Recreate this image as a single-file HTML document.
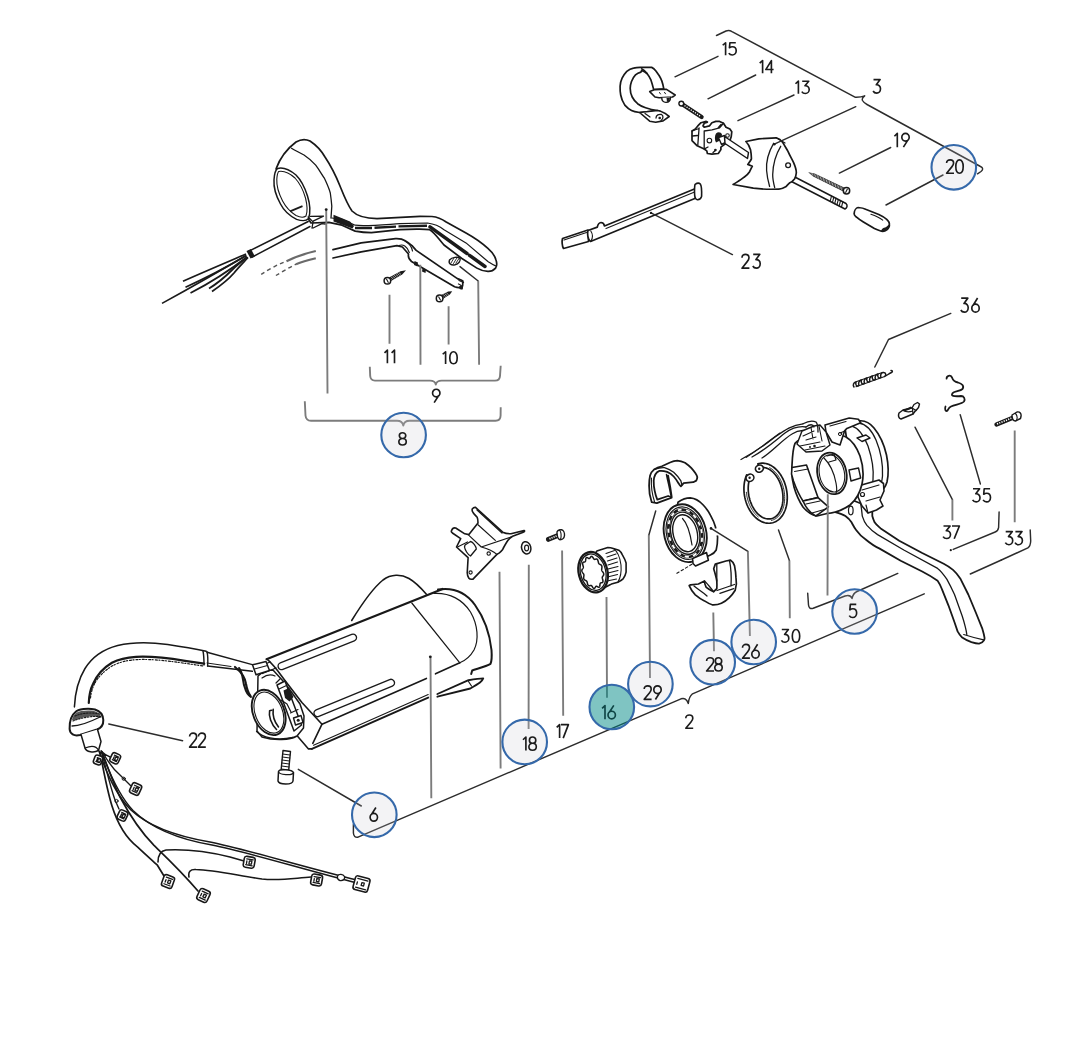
<!DOCTYPE html>
<html><head><meta charset="utf-8"><style>
html,body{margin:0;padding:0;background:#fff;font-family:"Liberation Sans",sans-serif;width:1092px;height:1041px;overflow:hidden}
svg{display:block}
.l{fill:none;stroke:#2c2c2c;stroke-width:1.45;stroke-linecap:round;stroke-linejoin:round}
.lv{fill:none;stroke:#7c7c7c;stroke-width:1.9;stroke-linecap:butt;stroke-linejoin:round}
.k{fill:none;stroke:#181818;stroke-width:1.6;stroke-linecap:round;stroke-linejoin:round}
.w{fill:#fff;stroke:#181818;stroke-width:1.6;stroke-linecap:round;stroke-linejoin:round}
.f{fill:#1a1a1a;stroke:none}
.c{fill:#c2c2cc;fill-opacity:.2;stroke:#3569aa;stroke-width:2.1}
</style></head><body>
<svg width="1092" height="1041" viewBox="0 0 1092 1041">
<rect width="1092" height="1041" fill="#fff"/>
<!-- 10_housing.svg -->
<g id="housing">
<!-- hump -->
<path class="k" d="M351.7,620.5 C360,607 373,588 383,580 C391,574 401,574 409,578.5 C416,582.5 421,588 426.4,594.2"/>
<!-- top edge -->
<path class="k" style="stroke-width:2.2" d="M266.5,659.2 L442.6,589"/>
<!-- rear end -->
<path class="k" style="stroke-width:2" d="M438,589.6 C455,587 467,594 475,605 C485,619 490,636 491.5,650 C492,657 492,660.5 490.5,663.8 C486,666.5 476,669 472.2,670.5 L471.2,674"/>
<path class="k" style="stroke-width:1.2" d="M434,593.4 C450,592.5 463,600 470.5,612 C478,625 479,640 474,650 C470,657 465.5,660.5 459.8,662.8"/>
<path class="k" style="stroke-width:1.2" d="M411.8,603 L459.8,662.8"/>
<!-- top face lower edge -->
<path class="k" d="M322,724.2 L426.4,678.4 M435.5,673.8 L459.8,662.8"/>
<!-- front edge -->
<path class="k" d="M267,659.2 C272,663 278,671 284.2,679.4 L301.9,702.5 L322,724.2 L312.8,743.4"/>
<!-- bottom edges -->
<path class="k" style="stroke-width:1.9" d="M311.9,748.9 L428.2,697.6 M437.4,694 L468.5,680.2 C476,679 480,678.5 483.2,678.4 C482,681.5 480,683 470.3,688.5 L437.4,696.7"/>
<path class="k" style="stroke-width:1.1" d="M313.5,745.2 L428.2,694.5"/>
<path class="k" style="stroke-width:1.2" d="M468.5,681.5 L471.5,686"/>
<path class="k" d="M294.1,732.3 L308.5,748.9 L311.9,748.9"/>
<!-- slots -->
<path d="M281.6,666.1 L353,637.6" style="stroke:#1a1a1a;stroke-width:8.4;stroke-linecap:round"/>
<path d="M281.6,666.1 L353,637.6" style="stroke:#fff;stroke-width:5.6;stroke-linecap:round"/>
<path d="M317.5,713.2 L391,682.8" style="stroke:#1a1a1a;stroke-width:8.4;stroke-linecap:round"/>
<path d="M317.5,713.2 L391,682.8" style="stroke:#fff;stroke-width:5.6;stroke-linecap:round"/>
<!-- clamp on front face -->
<path class="w" style="stroke-width:1.5" d="M258,676 C262,672 268,670 273,670 L283,681 L290,690 L300,704 L304,716 L303.5,728 L297,736 C290,740 275,741 262,737 L257,731 Z" />
<path class="w" style="stroke-width:1.5" d="M277,685 L285,681 L301.5,725 L294,731 Z"/>
<path class="k" style="stroke-width:1.2" d="M279,689 L286.5,685.5 M290.5,713 L298,709.5"/>
<ellipse cx="268.7" cy="712.4" rx="15.6" ry="23.6" transform="rotate(-22 268.7 712.4)" class="w" style="stroke-width:1.9"/>
<ellipse cx="268.9" cy="712.6" rx="13.6" ry="21.4" transform="rotate(-22 268.9 712.6)" class="k" style="stroke-width:1.1"/>
<path class="k" style="stroke-width:1.6" d="M271.5,710.2 L269.6,710.8 C268.5,716 271,724 276.5,729.5 M273.2,709.4 C272.5,715 274.5,722 278.5,727"/>
<path class="k" style="stroke-width:1.4" d="M256.6,731.5 C262,737 275,741 293,737.5"/>
<path class="w" style="stroke-width:1.4" d="M293.5,718 L301,715.5 L303,722.5 L295.5,725 Z"/>
<circle cx="298.2" cy="720.3" r="1.5" class="f"/>
<path class="f" d="M283.5,690.5 L289,688 L293.5,697 L289.5,701.5 L285,698 Z"/>
<path class="k" style="stroke-width:1.2" d="M281,700 L287,704 L291,712 M276,683 L280,679 M262,678 C266,675 271,674 275,676"/>
<path class="k" style="stroke-width:1.3" d="M270,662 L258,667 M262.5,673.5 L276,668"/>
</g>

<!-- 20_harness.svg -->
<g id="harness">
<!-- sheath -->
<path class="k" style="stroke-width:1.5" d="M74.4,706.9 C75,695 78,680 85,668.5 C92,657 104,649 117.7,645.4 C130,642.5 150,642 167.7,644.4 C182,646.5 196,649 206.2,651.2"/>
<path class="k" style="stroke-width:2.2" d="M88.8,703 C89,695 91,688 93,684 C96,677 103,668 111.9,662.7 C120,658.5 128,657.3 136,656.8 C150,656 165,657.5 185,660.8 L204.2,663.7"/>
<path class="k" style="stroke-width:1.2;stroke-dasharray:2 1.5 1 2" d="M90.5,698 C91,692 93,686.5 95,683 C98,677 105,670 113,665.5 C121,661.5 129,660 137,659.6 C151,659 166,660.5 185,663.3 L203,666"/>
<path class="k" style="stroke-width:1.4" d="M203,651 C204,656 204,660 204,665 M207,651.8 C208,656 208,661 207.6,666"/>
<path class="k" style="stroke-width:1.5" d="M207,652.2 L252.3,664.6 M207.6,666 L252.3,671.3"/>
<path class="k" style="stroke-width:1" d="M207,663 L231,666.5"/>
<path class="k" style="stroke-width:2.2" d="M235,667 C240,671 245,676 246,684 C247,690 249,694 250.4,696"/>
<path class="k" style="stroke-width:2" d="M239,668 C244,674 242,682 245,688 C246,692 248,695 251,697"/>
<path class="w" style="stroke-width:1.5" d="M252.5,664.8 L266,661.5 L269.5,670.5 L256,674.8 Z"/><path class="k" style="stroke-width:1.1" d="M254.5,669 L267.5,665.5"/>
<!-- grommet -->
<path class="w" style="stroke-width:2" d="M75.5,712 C78,709 88,708 95,709.5 C100,711 103,714 103.3,720 C103.5,725 101,728 97,729.5 L80,735 C74,736.5 70,734 69.6,729 C69.4,722 71.5,715 75.5,712 Z"/>
<path d="M76,713 C80,710.5 88,710 94,711 C98,712 101,714.5 101.5,718 C96,716 88,716 80,718.5 C76,720 73,721 72,720 C72.5,717 74,714.5 76,713 Z" style="fill:#555;stroke:none"/>
<path class="k" style="stroke-width:1.3" d="M72,726 C78,726 90,722 100,717"/><path class="k" style="stroke-width:1.1;stroke-dasharray:1.5 1.5" d="M75,716 C82,713 92,712 100,714 M73,721 C80,718 90,716 101,716.5"/>
<path class="w" style="stroke-width:1.5" d="M81,734.5 L85,748 C86,752 94,753 98.5,750.5 L101,741.5 L97.5,729.5"/>
<path class="k" style="stroke-width:1.2" d="M85,748 C90,746 96,745 98.5,750.5"/>
<!-- wires -->
<path class="k" style="stroke-width:1.6" d="M99,751 C106,772 116,795 131,810 C148,826 175,836 210,842 C245,849 300,866 357,880"/>
<path class="k" style="stroke-width:1.4" d="M101.5,751 C108.5,771 118.5,795 133,810.5 C150,827 177,839 212,845 C247,852 302,869 357,883"/>
<path class="k" style="stroke-width:1.7" d="M102,752 C108,768 114,785 120,797 C128,812 138,829 154,845.4 C165,856 180,870 198,891"/>
<path class="k" style="stroke-width:1.7" d="M100,752 C103,768 107,790 112,806 C117,822 126,838 137.7,847.1 C146,855 153,861 157.4,865.2 L164,876"/>
<path class="k" style="stroke-width:1.6" d="M158,862 C158,856 160,851 166,850 C185,849 210,852 230,857 L244,861"/>
<path class="k" style="stroke-width:1.6" d="M189,877 C188,872 190,869 196,869.5 C215,870 240,876 262,879 C280,881 295,878 311,877"/>
<path class="k" style="stroke-width:1.4" d="M101,751 C104,754 107,756 111,757.5 M102.5,752 C108,762 114,770 120,775 C123,778 126,781 130.5,785.5 M101.5,752 C106,768 110,786 115,800 L119,809"/><circle cx="123.7" cy="778.7" r="1.6" class="k" style="stroke-width:1"/><circle cx="116.5" cy="801" r="1.6" class="k" style="stroke-width:1"/>
<!-- connectors -->
<g transform="translate(361.5,884) rotate(15)"><rect x="-7.5" y="-7.0" width="15" height="14" rx="2.5" class="w" style="stroke-width:1.6"/><path class="k" style="stroke-width:1.3" d="M-5.0,-4.5 L5.5,-4.5 M-5.0,4.5 L5.5,4.5 M-4.5,-1 L-4.5,1.5 M0,-1.5 L2.5,-1.5 L2.5,1.5 L0,1.5 Z"/></g>
<g transform="translate(203.5,895.5) rotate(25)"><rect x="-5.5" y="-6.0" width="11" height="12" rx="2.5" class="w" style="stroke-width:1.6"/><path class="k" style="stroke-width:1.3" d="M-3.0,-3.5 L3.5,-3.5 M-3.0,3.5 L3.5,3.5 M-2.5,-1 L-2.5,1.5 M0,-1.5 L2.5,-1.5 L2.5,1.5 L0,1.5 Z"/></g>
<g transform="translate(168,881.5) rotate(20)"><rect x="-5.5" y="-6.0" width="11" height="12" rx="2.5" class="w" style="stroke-width:1.6"/><path class="k" style="stroke-width:1.3" d="M-3.0,-3.5 L3.5,-3.5 M-3.0,3.5 L3.5,3.5 M-2.5,-1 L-2.5,1.5 M0,-1.5 L2.5,-1.5 L2.5,1.5 L0,1.5 Z"/></g>
<g transform="translate(249.2,862.3) rotate(10)"><rect x="-5.5" y="-5.5" width="11" height="11" rx="2.5" class="w" style="stroke-width:1.6"/><path class="k" style="stroke-width:1.3" d="M-3.0,-3.0 L3.5,-3.0 M-3.0,3.0 L3.5,3.0 M-2.5,-1 L-2.5,1.5 M0,-1.5 L2.5,-1.5 L2.5,1.5 L0,1.5 Z"/></g>
<g transform="translate(316.6,880) rotate(10)"><rect x="-5.5" y="-5.5" width="11" height="11" rx="2.5" class="w" style="stroke-width:1.6"/><path class="k" style="stroke-width:1.3" d="M-3.0,-3.0 L3.5,-3.0 M-3.0,3.0 L3.5,3.0 M-2.5,-1 L-2.5,1.5 M0,-1.5 L2.5,-1.5 L2.5,1.5 L0,1.5 Z"/></g>
<g transform="translate(115.2,758.3) rotate(25)"><rect x="-4.5" y="-5.0" width="9" height="10" rx="2.5" class="w" style="stroke-width:1.6"/><path class="k" style="stroke-width:1.3" d="M-2.0,-2.5 L2.5,-2.5 M-2.0,2.5 L2.5,2.5 M-1.5,-1 L-1.5,1.5 M0,-1.5 L2.5,-1.5 L2.5,1.5 L0,1.5 Z"/></g>
<g transform="translate(135.6,789) rotate(25)"><rect x="-5.0" y="-5.5" width="10" height="11" rx="2.5" class="w" style="stroke-width:1.6"/><path class="k" style="stroke-width:1.3" d="M-2.5,-3.0 L3.0,-3.0 M-2.5,3.0 L3.0,3.0 M-2.0,-1 L-2.0,1.5 M0,-1.5 L2.5,-1.5 L2.5,1.5 L0,1.5 Z"/></g>
<g transform="translate(122.5,815.5) rotate(25)"><rect x="-4.5" y="-5.0" width="9" height="10" rx="2.5" class="w" style="stroke-width:1.6"/><path class="k" style="stroke-width:1.3" d="M-2.0,-2.5 L2.5,-2.5 M-2.0,2.5 L2.5,2.5 M-1.5,-1 L-1.5,1.5 M0,-1.5 L2.5,-1.5 L2.5,1.5 L0,1.5 Z"/></g>
<g transform="translate(98,760) rotate(20)"><rect x="-4.0" y="-4.5" width="8" height="9" rx="2.5" class="w" style="stroke-width:1.6"/><path class="k" style="stroke-width:1.3" d="M-1.5,-2.0 L2.0,-2.0 M-1.5,2.0 L2.0,2.0 M-1.0,-1 L-1.0,1.5 M0,-1.5 L2.5,-1.5 L2.5,1.5 L0,1.5 Z"/></g>
<path class="w" style="stroke-width:1.4" d="M337.5,876 C339,873.5 343,874 344.5,876.5 C345.5,879 343,881 340,880.5 C338,880 337,878 337.5,876 Z"/>
<!-- screw 6 -->
<path class="w" style="stroke-width:1.4" d="M283,750.5 L290.5,751.5 L288.5,772 L281,771 Z"/>
<path class="k" style="stroke-width:1" d="M282.5,754 L290,755 M282.3,757 L289.8,758 M282,760 L289.5,761 M281.8,763 L289.2,764 M281.6,766 L289,767 M281.4,769 L288.8,770"/>
<path class="w" style="stroke-width:1.5" d="M278.5,771.5 C279,768.5 292,769.5 293.5,772.5 L293,781 C292.5,785 279,785 278,781 Z"/>
<path class="k" style="stroke-width:1.2" d="M278.5,771.5 C279,775 292.5,776 293.5,772.5"/>
</g>

<!-- 30_lever8.svg -->
<g id="lever8">
<!-- cable and wires -->
<path class="w" style="stroke-width:1.5" d="M308.2,221.5 L248.9,251.2 L252.2,257 L310,226.5"/>
<path class="f" d="M246.5,251 L251,249 L255,256.5 L250.5,258.5 Z"/>
<path d="M246,254 C232,260 206,271 183,281.2" style="fill:none;stroke:#1a1a1a;stroke-width:1.8;stroke-linecap:butt"/><path d="M246.5,255.5 C232,264 208,277 185.5,287.2" style="fill:none;stroke:#1a1a1a;stroke-width:1.8;stroke-linecap:butt"/><path d="M247,257 C234,267 212,282 190.5,293" style="fill:none;stroke:#1a1a1a;stroke-width:1.8;stroke-linecap:butt"/><path d="M247.5,257 C241,262 236,266 232,270 C226,276 218,283 209,288.5" style="fill:none;stroke:#1a1a1a;stroke-width:1.8;stroke-linecap:butt"/><path d="M248,257.5 C243,263 238,268 234,273 C228,280 220,286 212,291.5" style="fill:none;stroke:#1a1a1a;stroke-width:1.8;stroke-linecap:butt"/><path d="M246,255.5 C225,268 190,288 162,303.4" style="fill:none;stroke:#1a1a1a;stroke-width:1.6"/>
<!-- dashed lines -->
<path style="fill:none;stroke:#555;stroke-width:1.4;stroke-dasharray:4 3.2" d="M261.2,274.4 C268,270 276,265 286.5,261.2"/>
<path style="fill:none;stroke:#6a6a6a;stroke-width:2.2" d="M286.5,261.2 C295,257 305,253.5 315.8,251"/>
<path style="fill:none;stroke:#555;stroke-width:1.4;stroke-dasharray:4 3.2" d="M275.9,275.5 C282,272 289,267.5 296,264.2"/>
<path style="fill:none;stroke:#6a6a6a;stroke-width:2.2" d="M296,264.2 C303,261.5 309,260 315.8,258.3"/>
<!-- outer shell -->
<path class="w" style="stroke-width:1.7" d="M276.1,168.8 C280,158 288,148 296,142 C301,139 306,139 310,141 C316,145 321,150 325,157 C331,166 336,176 340,186 C344,196 347,204 352,211 C357,216 365,218.5 377,218.6 L420,216.4 L431.9,216.5 C438,217 442,219 446.2,222 L466,233 C475,238 482,243 487.9,248.4 C492,252 495,256 496,260 C497,263 497,266 495.6,268.1 C493,271 490,271.5 487.9,271.4 C484,271 480,270 476.9,268.1 L461.5,258.2 L444,245 C438,238 434,232 429.7,229.7 C425,229 420,229 416.5,229.1 L400,229.7 L371.4,232.6 C365,232.6 360,232 355.2,231.1 L342,225.2 L328.9,222.3 L311,223 Z"/>
<!-- crease -->
<path class="k" style="stroke-width:1.3" d="M291.5,148.3 C296,151 300,153 304,155 C310,159 313,162 315.7,165.2 C320,171 322,175 324.5,178.4 C327,184 329,188 330.3,193 C331,198 331.5,202 331.8,206.2 L331,218"/>
<!-- lever inner channel -->
<path class="k" style="stroke-width:1.2" d="M331.8,218 L342,219.4 L355.2,225.2 C365,226.5 380,225 400,223.6 L427.5,223 C435,224 440,226.5 444,229.7 L466,242.9 L487.9,261.5 C491,263.5 493,265 495.6,265.9"/>
<!-- dark slots -->
<path class="f" d="M333.5,214.8 L350,221.4 L354,226 L352.5,228.6 L333.5,221.6 Z"/>
<path d="M355,228 L372,228 M374.5,227.8 L396,226.6 M398.5,226.4 L427,225.8" style="stroke:#1a1a1a;stroke-width:2.4;fill:none"/>
<path d="M430,226.8 L467,253.5 M469.5,255.3 L485,266.5" style="stroke:#1a1a1a;stroke-width:3.4;fill:none;stroke-linecap:round"/>
<!-- ring opening -->
<path class="w" style="stroke-width:1.5" d="M277.6,168.4 C283,167 290,170 296,175 C302,181 305,188 307.5,196 C310,204 310.5,213 308.5,218.5 C306,221.5 300,220.5 296.6,219.4 C290,216 284,211 280.5,204 C276,196 273.5,187 274,179.8 C274.3,174 275.5,170 277.6,168.4 Z"/>
<path class="k" style="stroke-width:1.1" d="M278.6,171.5 C284,170.5 290,173.5 295,178 C300.5,184 303.5,191 305.5,198 C307.5,206 307.5,212 306,216 C303.5,218 299,217 296,215.5 C290.5,212 286,207.5 282.6,201 C278.5,193 276.5,185 276.8,179.5 C277,175.5 277.6,173 278.6,171.5 Z"/>
<path d="M290,211.3 L302.5,206.2" style="stroke:#1a1a1a;stroke-width:1.8"/>
<!-- y junction -->
<path class="k" style="stroke-width:1.3" d="M308.1,217 L313.1,221.9 L312,228 M310.3,216.4 L323.5,216.2 L313.6,220.8 M313.1,228 L321.9,223.6 L325.2,224.1"/>
<!-- lower bar 9 -->
<path class="w" style="stroke-width:1.7" d="M333,249.7 L361.2,242.9 L395.5,238.7 C400,238.5 403,239.3 405.2,240.8 C408,242.5 410,244 412,245.6 L416.2,250.4 L457.4,278.6 C460,279.5 462,280 462.9,281 L462.6,286 C461,288 458,288 454.6,286.8 L411.5,261.5 C409,259.5 408,256.5 408.5,254 L402.4,247 L396.9,245.6 L361.2,251.8 L333,258"/>
<path class="k" style="stroke-width:1.2" d="M399,245.5 C403,244 407,246 409.3,252.5 M405,241 C409,243.5 412,247 412.5,251"/>
<path class="f" d="M414.5,261 L418,262.5 L417.5,266.5 L414,265 Z M422.5,268 L426,269.5 L425.5,273 L422,271.5 Z"/>
<path class="k" style="stroke-width:1.3" d="M459,280.5 L463.5,282.5 M458.5,284 C461,285 463,287 462,289"/>
<circle cx="461" cy="287.5" r="2" class="f"/>
<!-- slot nut -->
<path class="w" style="stroke-width:1.4" d="M449.5,260 C452,257 458,256.5 460,258.5 C461,261 458.5,264 455,264.8 C451.5,265.5 448,264 449.5,260 Z"/>
<path class="k" style="stroke-width:0.9" d="M451,263 L454,258 M453.5,263.5 L456.5,258.5 M456,263 L459,258.5"/>
<!-- screws 10, 11 -->
<path class="f" d="M390.2,281.6 L402.2,274.4 L406.0,270.2 L400.5,271.3 L388.1,278.0 Z"/><path d="M391.8,280.0 L389.5,277.9 M393.4,279.1 L391.1,277.0 M395.0,278.2 L392.6,276.1 M396.5,277.3 L394.2,275.2 M398.1,276.4 L395.8,274.3 M399.7,275.5 L397.3,273.4 M401.2,274.6 L398.9,272.6 " style="stroke:#fff;stroke-width:0.6;fill:none"/><circle cx="387.4" cy="280.8" r="3.3" class="w" style="stroke-width:1.5"/><path d="M386.3,278.8 L388.5,282.8" style="stroke:#1a1a1a;stroke-width:1.1"/>
<path class="f" d="M442.4,299.2 L449.9,294.5 L452.2,291.2 L448.2,291.5 L440.3,295.6 Z"/><path d="M444.0,297.6 L441.7,295.5 M445.6,296.7 L443.3,294.6 M447.2,295.8 L444.8,293.7 M448.7,294.9 L446.4,292.8 " style="stroke:#fff;stroke-width:0.6;fill:none"/><circle cx="439.6" cy="298.4" r="3.3" class="w" style="stroke-width:1.5"/><path d="M438.5,296.4 L440.7,300.4" style="stroke:#1a1a1a;stroke-width:1.1"/>
</g>

<!-- 40_topright.svg -->
<g id="topright">
<!-- clamp 15 -->
<path class="w" style="stroke-width:1.7" d="M639.6,112.5 C636,112 633.5,111.5 631.5,110.5 C628.5,109 626.5,107 624.8,105.1 C622.5,101.5 621.2,98 620.7,95 C620.1,92 620,89 620.1,86.2 C620.3,83 621,80.5 622.1,78.2 C623.5,75.5 625,73.2 626.8,71.4 C629,69.6 631,68.6 633.5,68.1 C636,67.5 638,67.4 640.2,67.4 L651.7,67.4 C653.5,68.2 654.6,69.3 655.7,70.8 C657,72.5 658,74 659.1,75.5 C660.3,77.5 661.2,79 661.8,80.9 C662.7,83.5 663.3,86 663.8,88.9 L653.7,89.6 C652.8,86 652,83 651,80.2 C649.8,77.5 648.5,75.3 647,73.5 C645.5,72.2 644,71.3 641.6,70.5 L640.9,72.1 C638.5,72.8 637,73.6 635.5,74.8 C633.8,76.5 632.5,78.8 631.5,81.5 C630.6,84 630.2,86 630.2,88.3 C630.2,91.5 630.9,94.5 632.2,97 C633.5,99.5 635.5,102 637.6,103.7 C640,105.5 642.5,106.8 645.6,107.8 C649,109 653,110 657.7,110.5 Z"/>
<path class="k" style="stroke-width:1.6" d="M641.6,68.8 C644,70 645.5,71.5 647,73.5"/>
<path class="w" style="stroke-width:1.6" d="M649.7,91.6 L655,89.6 L666.5,89.3 L675.2,95 L672.5,97 L659.1,97.7 L655,97 Z"/>
<path class="k" style="stroke-width:1" d="M659.5,92.5 L660.5,94 M664.5,92.3 L665.5,93.8"/>
<path class="w" style="stroke-width:1.4" d="M661.8,97.7 C661.5,100.5 663.5,102.5 666,102.4 C668.5,102.3 670.5,100.5 670.5,97.5"/>
<path class="f" d="M666.5,98 L670,97.8 C670,100 668.8,101.6 667,102 Z"/>
<path class="w" style="stroke-width:1.6" d="M639.6,112.5 L649.7,121.2 L655.7,122.2 L663.1,120.9 L669.2,116.5 L665.8,113.8 L660.4,111.1 L657.7,110.5 Z"/>
<path class="k" style="stroke-width:1.3" d="M645,113.5 L650,117 M656,118 C656,115 659,113.8 661.5,114.5 C663.5,115.5 663.5,119 661,120.5"/>
<circle cx="659.7" cy="118" r="1.3" class="f"/>
<!-- screw 14 -->
<path d="M683,104.8 L701.6,117.1" style="stroke:#1a1a1a;stroke-width:4.2;stroke-linecap:round;fill:none"/>
<path d="M684.5,105.6 L700.6,116.4" style="stroke:#fff;stroke-width:1.3;stroke-dasharray:1.2 1.3;fill:none"/>
<circle cx="681.3" cy="103.6" r="2.4" class="w" style="stroke-width:1.4"/>
<!-- switch body 13 -->
<path class="w" style="stroke-width:1.7" d="M692,131 L695.3,129.1 L697.8,125.9 L701,122.7 L706.2,121.4 L707.4,122.1 L704.2,123.3 L703,125.9 L704.2,127.2 L709.4,125.9 L711.9,122.7 L715.8,121.4 L719.6,121.4 L723.5,123.3 L726,127.2 L729.9,129.1 L731.8,131.7 L731.2,136.8 L729.9,140.6 L728,141.9 L720.9,147.1 L720.9,149.6 L718.3,153.5 L711.9,154.1 L707.4,153.5 L706.8,150.9 L704.2,149 L697.2,145.8 L692,140.6 Z"/>
<path class="k" style="stroke-width:1.3" d="M704.2,131 L704.2,149 M699.1,127.8 L697.8,145.1 M704.2,131 L712,129.8 L719.6,127.8 L723.5,123.3 M692,131 L699,128.5 M692.3,136 L697.5,135.5 M704.5,148.8 L708,147 M718,128 L721,124.5 M713,152.5 L716,150"/>
<circle cx="709.4" cy="140.6" r="2.3" class="k" style="stroke-width:1.1"/>
<circle cx="727.5" cy="135.5" r="1.8" class="k" style="stroke-width:1.1"/>
<circle cx="715.3" cy="150" r="1.2" class="f"/>
<path class="f" d="M716,133.5 C718,131.5 721,132 722,134.5 L721,140 L716,142.5 C714.5,140 714.5,136 716,133.5 Z"/>
<path class="w" style="stroke-width:1.4" d="M718.5,137.5 L724.5,135.5 L727.5,141.5 L721.5,144.5 Z"/>
<!-- rod -->
<path class="w" style="stroke-width:1.5" d="M724.5,136.5 L748.5,152.5 L747.5,158.5 L725,143.5 Z"/>
<path class="w" style="stroke-width:1.5" d="M790,174.5 L846,203.5 C848,205.5 847,208 845,209 L788.5,180 Z"/>
<path class="k" style="stroke-width:1.1" d="M830.2,201.2 L831.5,196.1 M832.5,202.4 L833.8,197.2 M834.7,203.6 L836.0,198.4 M837.0,204.7 L838.3,199.6 M839.2,205.9 L840.5,200.7 M841.5,207.0 L842.8,201.9 "/>
<!-- cover -->
<path class="w" style="stroke-width:1.7" d="M745.9,141.5 L758.8,138.8 L776.2,137.8 C779,138.5 781,140 782.6,142.4 C785,146 786.5,149 788.1,151.6 C790,156 792,159 793.6,162.6 C795.5,167 796.5,170 796.3,173 C796,176 795.5,177.5 794.5,179 C793,181 791.5,182 789.9,182.7 C788,184.5 787,185.5 786.2,186.4 C783,188.2 781,189 778.9,189.1 C770,189.5 760,189 753.3,188.2 L733.1,184.5 C737,182 741,180 744.1,177.2 C746.5,175.5 748.5,173.5 749.6,171.7 L752.3,166.2 L747.8,164.4 C750,161.5 751,160 751.4,158.9 C751.5,155 751,152.5 750.5,149.7 C749.5,146.5 748,143.5 745.9,141.5 Z"/>
<path class="k" style="stroke-width:1.3" d="M773.6,143.3 C768.5,152 766,162 766.6,170.5 C767,176 768,181 769.6,186.5 M780.7,146.3 C776,154 773,164 772.7,174.5 C772.6,179 773.5,183 774.7,187.5"/>
<circle cx="788.1" cy="165.3" r="2.4" class="k" style="stroke-width:1.3"/>
<path class="k" style="stroke-width:1.2" d="M776.5,138 L785,143"/>
<!-- screw 19 -->
<path class="f" d="M845.6,188.3 L814.6,173.6 L808.2,172.2 L813.2,176.4 L843.9,191.7 Z"/><path d="M843.4,187.8 L843.1,190.7 M841.9,187.0 L841.6,189.9 M840.3,186.3 L840.0,189.2 M838.8,185.5 L838.5,188.4 M837.3,184.8 L837.0,187.7 M835.7,184.1 L835.4,187.0 M834.2,183.3 L833.9,186.2 M832.7,182.6 L832.4,185.5 M831.2,181.8 L830.9,184.7 M829.6,181.1 L829.3,184.0 M828.1,180.3 L827.8,183.2 M826.6,179.6 L826.3,182.5 M825.0,178.9 L824.7,181.8 M823.5,178.1 L823.2,181.0 M822.0,177.4 L821.7,180.3 M820.5,176.6 L820.2,179.5 M818.9,175.9 L818.6,178.8 M817.4,175.1 L817.1,178.0 M815.9,174.4 L815.6,177.3 M814.3,173.7 L814.0,176.6 M812.7,173.2 L812.6,175.5 M811.0,172.8 L811.3,174.5 " style="stroke:#fff;stroke-width:0.6;fill:none"/><circle cx="846.5" cy="190.8" r="3.2" class="w" style="stroke-width:1.5"/><path d="M845.5,192.8 L847.5,188.8" style="stroke:#1a1a1a;stroke-width:1.1"/>
<!-- knob 20 -->
<path class="w" style="stroke-width:1.7" d="M858.1,207.5 C862,207.8 864.5,208.6 865.6,209.2 L878.8,214.5 C882,216 885,217.8 886.7,219.3 C888.5,221 889.5,222.5 889.3,223.7 C889.6,225.5 889.5,226.5 888.9,227.3 C888,229 886.8,230.3 885.4,230.8 C884,231.3 882.5,231.4 881.4,231.2 C879,230.5 876.5,229.7 874.4,228.6 L863.4,222 C860.5,220.3 858,218.5 855.9,216.7 C854.3,215.5 853.9,214.4 854.2,213.2 C854.3,210.7 855.9,208 858.1,207.5 Z"/>
<path class="f" d="M881,231 C884,231.5 887,230.2 888.6,228 C889.3,226.5 889.2,225.3 888.6,224.5 C887.5,226.5 885.5,227.5 884,227.8 C882.5,228.3 881.5,229.5 881,231 Z"/>
<path class="k" style="stroke-width:1.1" d="M870.9,214.2 C875,215.5 879.5,217.5 882.7,220.2"/>
<!-- bar 23 -->
<path class="w" style="stroke-width:1.7" d="M562.5,238.5 L588,230 L588.5,241.5 L563.5,248.5 C562,246 561.8,241 562.5,238.5 Z"/>
<path class="w" style="stroke-width:1.7" d="M588,230.5 L597.3,227.1 C598,224 599,222.7 601,222.5 C603,222.5 604,223.5 604.5,226 L696.2,188.2 L695.4,198.3 L590.5,241.5 C587.5,239.5 587.2,233 588,230.5 Z"/>
<path class="k" style="stroke-width:1.1" d="M606,228.6 L695.8,191.6"/>
<path class="k" style="stroke-width:1.1" d="M590.8,231 C592.8,234 592.8,238 591,241.2 M564,240 L586.5,232.5"/>
<path class="w" style="stroke-width:1.6" d="M695.1,184.3 C697,183 699,182.7 700.3,184 C701.5,185.5 701.8,190 701.6,196.4 C701,198.5 699,199.8 697.3,199.7 C695.5,199.5 694.5,196 694.5,192 C694.5,188 694.5,186 695.1,184.3 Z"/>
</g>

<!-- 50_switch5.svg -->
<g id="switch5">
<!-- wires from switch -->
<path class="k" style="stroke-width:1.3" d="M741,459.5 C755,452 765,445 775,437 C785,430 792,425 803,423.8 M752,457 C765,450 775,441 785,433 C792,428 800,426 806,427 M762,458 C772,452 782,440 792,434 C798,430 805,430 810,432"/>
<path class="k" style="stroke-width:1.1" d="M746,457.5 C758,450 770,440 780,433"/>
<!-- lever -->
<path class="w" style="stroke-width:1.8" d="M833.1,511.5 C838,513 842,514 845.4,516.1 C848,518 850,520 851.5,522.3 C853,525 854.5,528 856.1,530 C859,534 862,537 865.4,539.2 C870,543 874,546 879.2,548.4 L900.7,560.7 L922.2,571.5 C928,574.5 933,577.5 937.6,580.7 C940,584 941,587 942.2,589.9 L948.4,605.3 L954.5,622.2 L957.6,631.4 C959,634 960.5,636 962.2,637.6 C965,639.5 968,641 971.4,642.2 C974,643 977,643.8 979.1,643.7 C981,643.2 983,642 983.7,640.6 C984.5,639.5 984.7,638.5 984.5,637.6 C984,634 983,631 982.2,628.3 L976,613 L968.3,594.5 L960.6,579.1 C958,575 955.5,572 953,569.9 C950,567.5 947,565.5 943.7,563.8 L922.2,553 L899.2,540.7 L880.7,528.4 C878,526 876,524.5 874.6,522.3 C873.5,520 872.8,518 872.3,516.1 L872.3,508 L852,500 Z"/>
<path class="k" style="stroke-width:1.3" d="M860.7,503.8 C861.5,508 861.8,512 862.3,516.1 C863.5,520 865,523 866.9,525.4 C870,529 873.5,532 877.6,534.6 L903.8,550 L937.6,568.4 C941,571 944,575 946.8,579.1 C949.5,584 952,589 954.5,594.5 L962.2,616 C963.5,620 964.5,623.5 965.3,626.8 C966,629.5 966.5,632 966.8,634.5"/>
<path class="k" style="stroke-width:1.2" d="M963.7,634.5 C970,636.5 977,638.5 983.7,639.9"/>
<ellipse cx="850.8" cy="510.5" rx="2.3" ry="4.3" class="k" style="stroke-width:1.2"/>
<!-- back ring plates -->
<path class="w" style="stroke-width:1.7" d="M845,428 L858,421 C864,420 870,423 874,428 C879,434 884,444 886.5,455 C888.5,465 888.8,474 887,482 C885.5,487 883,490 880,491.5 L866,497 L852,475 Z"/>
<path class="k" style="stroke-width:1.3" d="M859,423 C866,424 872,431 876,440 C881,452 883,465 882.5,476 C882,483 880,487 877.5,489.5 M852,426 C859,428 864,436 868,446 C872,458 874,470 873,480 C872.5,486 870,490 866,492"/>
<!-- lever attachment block -->
<path class="w" style="stroke-width:1.6" d="M858,486 L879,480 L883.5,483.5 L884,491 L880,500 L883,506 L876.5,510 L868,513 L862,506 L858,497 Z"/>
<path class="k" style="stroke-width:1.2" d="M862,490 L879,485 M866,501 L880,497 M868,513 L866,505"/>
<circle cx="862.5" cy="494.5" r="2" class="k" style="stroke-width:1.2"/>
<!-- front plate -->
<path class="w" style="stroke-width:1.7" d="M795,443.4 C800,438 812,434 822,433 C832,432 840,434 846,437 C853,441 857,448 860,456 C863,465 864,475 862,484 C860,493 856,500 850,505 C843,510 835,513 826.1,513.7 L816.9,516 C812,515 808,513 803,507 C799,501 796,494 794,487 C792,480 791.5,472 792,465 C792.5,455 793,448 795,443.4 Z"/>
<ellipse cx="831.9" cy="473.4" rx="14.5" ry="21" transform="rotate(-12 831.9 473.4)" class="w" style="stroke-width:1.8"/>
<ellipse cx="831.9" cy="473.4" rx="12.5" ry="18.8" transform="rotate(-12 831.9 473.4)" class="k" style="stroke-width:1.1"/>
<path class="k" style="stroke-width:1.2" d="M824,458 C829,463 834,472 836,483 C837,488 837,491 836,493 M827,456 L834,454 L836,460 L829,462"/>
<!-- small tab on right of hole -->
<path class="w" style="stroke-width:1.4" d="M849,470 L858.5,468 L860.7,478 L851,481 Z"/>
<!-- left block -->
<path class="w" style="stroke-width:1.6" d="M792,467.5 L806.5,465 L818,497.6 L803,501 C799,495 796,488 793.5,481 L791.5,474 Z"/>
<path class="k" style="stroke-width:1.1" d="M794.5,471.5 L808,469"/>
<!-- bottom block -->
<path class="w" style="stroke-width:1.6" d="M803,501 L818,497.6 L828.4,506.8 L819.2,513.7 L815.7,516 C810,513 806,508 803,501 Z"/>
<path class="k" style="stroke-width:1.2" d="M806,504 L820,501 M812,513 L826,509"/>
<!-- top housing -->
<path class="w" style="stroke-width:1.6" d="M825,425 L849.2,418 L858.4,419.2 L860.7,422.7 L846.9,428.4 L844.6,430.7 L840,445 L832,442 L826,432 Z"/>
<path class="k" style="stroke-width:1.2" d="M830,426 L846,421.5 M840,433 L845,431"/>
<circle cx="840" cy="434" r="1.6" class="k" style="stroke-width:1"/>
<path class="w" style="stroke-width:1.4" d="M857,438 L866,435 L870,438 L862,441.5 Z"/>
<!-- connectors top-left -->
<path class="w" style="stroke-width:1.4" d="M797,444 L802,431 L814,426 L820,425 L826,432 L830,445 L822,451 L806,452 Z"/>
<path class="k" style="stroke-width:1.1" d="M803,436 L814,431 M806,440 L816,437 M811,427.5 L813,439 M819,426 L822,441 M800,446 L820,442 M805,450 L825,446"/>
<circle cx="814.5" cy="446" r="1.3" class="f"/>
<circle cx="810" cy="447" r="1" class="f"/>
<path class="k" style="stroke-width:1.3" d="M803,423.8 C808,421 812,420 816,422 C818,424 818,428 818,432 M806,427 C810,424 813,424 814,427"/>
<!-- ring 30 (circlip) -->
<path class="w" style="stroke-width:1.7" d="M757.88,463.83 L759.15,463.49 L760.45,463.26 L761.77,463.15 L763.10,463.16 L764.44,463.28 L765.78,463.51 L767.13,463.86 L768.46,464.32 L769.79,464.89 L771.10,465.58 L772.39,466.36 L773.66,467.26 L774.89,468.25 L776.09,469.33 L777.24,470.51 L778.35,471.78 L779.42,473.13 L780.43,474.56 L781.38,476.05 L782.27,477.62 L783.10,479.24 L783.86,480.92 L784.55,482.65 L785.16,484.41 L785.71,486.21 L786.17,488.04 L786.55,489.88 L786.86,491.74 L787.08,493.61 L787.22,495.47 L787.28,497.33 L787.25,499.17 L787.14,500.98 L786.95,502.77 L786.67,504.52 L786.31,506.22 L785.88,507.88 L785.36,509.48 L784.77,511.01 L784.11,512.48 L783.37,513.87 L782.57,515.19 L781.70,516.41 L780.77,517.55 L779.78,518.60 L778.74,519.55 L777.64,520.40 L776.50,521.14 L775.32,521.77 L774.10,522.30 L772.84,522.71 L771.56,523.01 L770.26,523.19 L768.94,523.26 L767.60,523.21 L766.26,523.05 L764.91,522.77 L763.57,522.38 L762.24,521.88 L760.91,521.26 L759.61,520.54 L758.33,519.71 L757.08,518.78 L755.86,517.76 L754.68,516.63 L753.54,515.42 L752.44,514.12 L751.40,512.74 L750.41,511.29 L749.48,509.77 L748.61,508.18 L747.81,506.53 L747.08,504.84 L746.41,503.10 L745.82,501.32 L745.31,499.51 L744.88,497.67 L744.52,495.82 L744.25,493.96 L744.06,492.09 L743.95,490.23 L743.92,488.38 L743.98,486.55 L744.12,484.75 L744.35,482.97 L744.65,481.24 L745.04,479.55 L745.51,477.92 L746.05,476.34 L746.67,474.83 L750.23,477.24 L749.75,478.53 L749.34,479.87 L748.98,481.26 L748.70,482.70 L748.47,484.18 L748.32,485.70 L748.23,487.24 L748.20,488.81 L748.25,490.39 L748.36,491.98 L748.53,493.58 L748.77,495.18 L749.08,496.77 L749.45,498.34 L749.88,499.90 L750.38,501.43 L750.93,502.93 L751.54,504.39 L752.20,505.81 L752.91,507.18 L753.68,508.49 L754.49,509.75 L755.34,510.94 L756.23,512.07 L757.15,513.12 L758.11,514.10 L759.10,514.99 L760.12,515.80 L761.15,516.53 L762.20,517.16 L763.27,517.70 L764.34,518.15 L765.42,518.50 L766.50,518.76 L767.57,518.91 L768.64,518.97 L769.70,518.93 L770.74,518.79 L771.76,518.55 L772.76,518.21 L773.73,517.78 L774.67,517.25 L775.57,516.63 L776.44,515.92 L777.26,515.12 L778.04,514.23 L778.77,513.27 L779.45,512.23 L780.07,511.11 L780.64,509.93 L781.16,508.68 L781.61,507.38 L782.00,506.01 L782.33,504.60 L782.59,503.15 L782.79,501.65 L782.93,500.13 L782.99,498.58 L782.99,497.00 L782.92,495.41 L782.79,493.82 L782.58,492.22 L782.32,490.62 L781.99,489.04 L781.59,487.47 L781.14,485.92 L780.62,484.40 L780.05,482.92 L779.42,481.47 L778.74,480.07 L778.01,478.72 L777.23,477.43 L776.40,476.19 L775.53,475.03 L774.63,473.93 L773.69,472.90 L772.72,471.96 L771.72,471.09 L770.70,470.32 L769.66,469.62 L768.60,469.02 L767.53,468.52 L766.45,468.11 L765.38,467.79 L764.30,467.57 L763.22,467.45 L762.16,467.43 L761.11,467.51 L760.07,467.69 L759.06,467.97 Z"/>
<path class="k" style="stroke-width:0.9" d="M769.69,467.72 L770.90,468.44 L772.09,469.27 L773.25,470.21 L774.38,471.24 L775.47,472.36 L776.52,473.58 L777.52,474.88 L778.47,476.25 L779.36,477.70 L780.20,479.22 L780.97,480.80 L781.68,482.43 L782.32,484.10 L782.88,485.82 L783.38,487.56 L783.79,489.33 L784.13,491.12 L784.39,492.92 L784.57,494.71 L784.67,496.50 L784.69,498.28 L784.62,500.03 L784.47,501.76 L784.25,503.45 L783.94,505.09 L783.55,506.69 L783.09,508.22 L782.55,509.69 L781.94,511.09 L781.26,512.42 L780.51,513.66 L779.70,514.82 L778.83,515.88 L777.90,516.84 L776.92,517.71 L775.89,518.47 L774.82,519.12 L773.71,519.66 L772.56,520.08 L771.38,520.39"/>
<path class="k" style="stroke-width:0.9" d="M758.21,516.86 L757.59,516.33 L756.98,515.77 L756.37,515.19 L755.78,514.58 L755.21,513.94 L754.64,513.28 L754.09,512.59 L753.55,511.88 L753.03,511.15 L752.52,510.39 L752.03,509.62 L751.55,508.82 L751.10,508.01 L750.66,507.18 L750.23,506.33 L749.83,505.46 L749.45,504.58 L749.08,503.69 L748.74,502.78 L748.41,501.86 L748.11,500.93 L747.83,499.99 L747.57,499.04 L747.33,498.09 L747.11,497.13 L746.92,496.16 L746.75,495.20 L746.60,494.22 L746.48,493.25 L746.38,492.28"/>
<ellipse cx="750" cy="477.8" rx="4" ry="3.6" transform="rotate(-30 750 477.8)" class="w" style="stroke-width:1.6"/><circle cx="749.6" cy="477.7" r="1.2" class="f"/>
<ellipse cx="759.4" cy="468.6" rx="4" ry="3.5" transform="rotate(-20 759.4 468.6)" class="w" style="stroke-width:1.6"/><circle cx="759.2" cy="468.8" r="1.2" class="f"/>
</g>

<!-- 60_smallright.svg -->
<g id="smallright">
<!-- spring 36 -->
<path class="k" style="stroke-width:1.5" d="M854,387 C852.5,385 853.5,382.5 856,382 M856,382.5 C855,385 857,387 859,385.5 C858,383 859,380.5 861.5,380 C860.5,383 862.5,385 864.5,383.5 C863.5,381 864.5,378.5 867,378 C866,381 868,383 870,381.5 C869,379 870,376.5 872.5,376 C871.5,379 873.5,381 875.5,379.5 C874.5,377 875.5,374.5 878,374 C877,377 879,379 881,377.5 C880,375 881,372.5 883.5,372.5 C886,372.5 886.5,375.5 884.5,376.5 C887,375.5 889,373.5 891.5,372.5 C893,372 892.5,370.5 891,370.5"/>
<path class="k" style="stroke-width:1.1" d="M856,386.8 L884,376.8 M856,381.8 L883,372.3"/>
<!-- wire spring 35 -->
<path class="k" style="stroke-width:1.8" d="M946.6,378.6 C946.5,375.5 950.5,374.5 952,377.5 C953,380.5 955,382 958,382.5 C962,383.5 964.5,386 962.5,389 C960,391.5 953,391 952,394 C951,396.5 957,396.5 961,396 C964,396 965.5,399 964,401.5 C962,404 955,404.5 951,406.5 C948,408 948.5,410 947,411 C945.5,411.5 944.5,409 945.5,406.5"/>
<!-- part 37 -->
<path class="w" style="stroke-width:1.5" d="M899,413 C898,415.5 898.5,418.5 901,419 L913,414 L916,410 L915.5,407 L903,410 Z"/>
<path class="w" style="stroke-width:1.4" d="M912,408 L914,404.5 L917.5,402.5 L919.5,404 L918.5,407.5 L916,410.5 Z"/>
<path class="k" style="stroke-width:1.2" d="M903,410.5 C906,412 909,412.5 912.5,411 M913,414 L912.5,409"/>
<path class="f" d="M903.5,410 L911,406.5 L912,408.5 L904.5,411.5 Z"/>
<!-- screw 33 -->
<path d="M996.5,424.5 L1013.5,417.5" style="stroke:#1a1a1a;stroke-width:4.4;stroke-linecap:round;fill:none"/>
<path d="M997,424 L1013,417.5" style="stroke:#fff;stroke-width:1.6;stroke-dasharray:1.2 1.2;fill:none"/>
<path class="w" style="stroke-width:1.4" d="M1012,415 L1017,412 C1020,411.5 1021.5,413.5 1021,416.5 L1020.5,418.5 L1015.5,421 C1013,421 1012,418 1012,415 Z"/>
<path class="k" style="stroke-width:1.1" d="M1015.5,413.5 C1017,415 1017.5,418 1016.5,420.5"/>
</g>

<!-- 70_mid.svg -->
<g id="mid">
<!-- part 29 half shell -->
<path class="w" style="stroke-width:1.8" d="M651.7,502.2 C649.8,497 649,491 649.1,485.8 C649.2,481 649.5,478 650.1,475.5 C651,472.5 652.5,470.8 654.2,469.4 C657,467.5 659.5,466.8 661.9,466.3 L670.6,462.2 C673,461 675,460.6 677.3,460.6 C680,460.8 682.5,461.5 685,462.7 C687.5,464.5 689.5,466 691.2,467.8 C693,469.8 694.3,471.5 695.3,473 C696.5,474.8 697.2,476 697.3,477.1 C697.2,478.8 696.8,479.8 696.3,480.6 L693.2,482.2 L683.5,483.2 C682.5,484.5 681.8,485.5 680.9,486.3 C680,485.5 679.3,484.7 678.8,483.7 C677,480.5 675.5,478.5 673.7,476.5 C671.5,474 669.5,472.8 667.1,471.9 C664.5,471 662,470.6 659.4,470.9 C657.5,471.5 656.2,472.8 655.3,474.5 C654.3,476.5 653.8,478.5 653.7,480.6 C653.6,484 654,487.5 654.7,490.9 C655.3,494 656.2,497 657.3,499.6 L668.1,496 L671.7,497.6 L656.8,503.2 Z"/>
<path class="k" style="stroke-width:1.5" d="M666.5,474.5 C668,482 670,490 671.2,497 M668.2,475.5 C669.5,482 670.8,489 671.8,496.5"/>
<path class="k" style="stroke-width:1.3" d="M654.2,469.4 C658,468 661,467.3 664.5,467.6 C668,468.7 671,470.2 673.7,472.2 C676.5,474.8 679,477.8 680.9,480.8 L681.9,485"/>
<path class="k" style="stroke-width:1.1" d="M651.5,478 C651,485 652,494 654.5,501.5"/>
<!-- bearing 26 -->
<path class="w" style="stroke-width:1.7" d="M678,502.2 C682,499.5 686,497.9 690.2,497.9 C695,498.2 699.5,501 703.2,505 C706.5,508.5 708.8,511.8 710.4,515.2 C712.8,519.5 714.5,523.5 715.4,526.8 L717.6,537 C717.6,542 717.2,546 716.2,550 C714.8,552.5 712.8,554 710.4,555.1 L695,562 L672,540 Z"/>
<path style="fill:none;stroke:#fff;stroke-width:3" d="M715.6,528.5 L717,535.5"/>
<ellipse cx="685.2" cy="533.2" rx="21" ry="29.3" transform="rotate(-14 685.2 533.2)" class="w" style="stroke-width:1.9"/>
<ellipse cx="685.2" cy="533.2" rx="18.6" ry="26.6" transform="rotate(-14 685.2 533.2)" class="k" style="stroke-width:1.2"/>
<ellipse cx="685.2" cy="533.2" rx="16.3" ry="24" transform="rotate(-14 685.2 533.2)" style="fill:none;stroke:#1a1a1a;stroke-width:2.8"/>
<ellipse cx="685.2" cy="533.2" rx="16.3" ry="24" transform="rotate(-14 685.2 533.2)" style="fill:none;stroke:#fff;stroke-width:1.8;stroke-dasharray:4 4.5"/>
<ellipse cx="685.2" cy="533.2" rx="14.2" ry="21.4" transform="rotate(-14 685.2 533.2)" class="w" style="stroke-width:1.4"/>
<ellipse cx="685.2" cy="533.2" rx="12" ry="18.8" transform="rotate(-14 685.2 533.2)" class="k" style="stroke-width:1.4"/>
<path class="k" style="stroke-width:1.2" d="M682.5,518.5 C687,523 690,532 692,545"/>
<!-- tab -->
<path class="w" style="stroke-width:1.6" d="M692.6,558.5 L706.5,552.5 L708.4,560.2 L695.5,566 L693,563.5 Z"/>
<path class="k" style="stroke-width:1.1;stroke-dasharray:2.5 2.5" d="M676.9,573.3 L692.2,564.1"/>
<!-- part 28 lower half shell -->
<path class="w" style="stroke-width:1.7" d="M689.2,585.6 C691,590 693,592.5 695.3,594.8 C698.5,597.5 701.5,599.5 704.5,600.9 C707,602.5 709.5,604 712.2,604.8 C715.5,605 718.5,604.5 721.4,603.2 C724.5,601.8 727,600 729.1,597.9 C731.5,595.5 733.5,593 735.2,590.2 C736.5,586 736.8,582 736,577.9 C735.8,573.5 735.3,569.5 734.5,565.6 C733.5,563 732,561 730.6,560.2 L726,561 L715.3,564.1 L713.7,568.7 C715,573 716.2,577 716.8,581 C717,584 717,586.5 716.8,588.6 L713.7,591.7 C710,590 707.5,588.5 706.1,587.1 C705,585 704.5,583 704.5,581 L698.4,584 L690.7,584.8 Z"/>
<path class="k" style="stroke-width:1.3" d="M719.9,593.3 L733.7,588.6 M717,590.5 L734.5,584.5 M716.8,581 L716.8,564.5 M729.5,560.5 C731,568 731.5,578 731,586 M704.5,581 C708,584 712,590 713.7,591.7 M694,586 C698,589.5 703,592 707,596"/>
<!-- bracket -->
<path class="w" style="stroke-width:1.6" d="M472.2,509.1 C473.5,507.5 474.5,507.2 475.5,507.4 L502.7,532.2 C505,533.3 508,533.8 511,533.8 L524.1,530.5 C525,531 524.5,532 523.3,532.2 L512.6,536.3 C509.5,538 508,540 506.8,542 C505,545 503.5,547.5 502.7,549.5 C501.5,551 500.5,552 499.4,552.8 L496.9,554.4 L473,579.1 C471,579.5 469.5,579 468.9,578.3 C467.5,576 467,574 467.3,571.7 L468.1,557.7 L456.5,547 L460.7,538.7 L452.4,533 C451.2,532 451.2,531 451.6,530.5 C452.5,528 454,527.5 455.7,528 L464.8,533.8 L468.9,534.6 L478,523.1 C478,520 477.8,518.5 477.2,517.3 C475,515 473.5,513.5 473,512.4 C472,511 472,510 472.2,509.1 Z"/>
<path class="k" style="stroke-width:1.2" d="M478,524.7 L495.3,540.4 M468.9,535.4 L481.3,547 L511,537.1 M457.5,547 L467.5,542 M481.3,547 C485,548 492,550 496.9,554.4 M477,510 L502,533"/>
<path class="k" style="stroke-width:1.3" d="M465,545 L470.5,541.5 C473,542 476,546 476.3,549 L470.5,556 C468,555 465,550 464.5,547 Z"/>
<circle cx="488.7" cy="553.6" r="1.7" class="k" style="stroke-width:1.1"/>
<circle cx="470.6" cy="572.5" r="1.6" class="k" style="stroke-width:1.1"/>
<!-- washer 18 -->
<ellipse cx="526.2" cy="547.8" rx="4.6" ry="6.2" transform="rotate(-15 526.2 547.8)" class="w" style="stroke-width:1.5"/>
<ellipse cx="526.6" cy="548" rx="2" ry="2.8" class="k" style="stroke-width:1.2"/>
<!-- screw 17 -->
<path d="M548.5,539.3 L558.5,535.3" style="stroke:#1a1a1a;stroke-width:5;stroke-linecap:round;fill:none"/>
<path d="M549.5,538.8 L557.5,535.6" style="stroke:#fff;stroke-width:1.8;stroke-dasharray:1.1 1.1;fill:none"/>
<path class="w" style="stroke-width:1.4" d="M557,533 C556.5,531 558.5,529.6 561.5,529.8 C563.5,530.3 564.7,533 564.5,535.5 C564.2,538 562.5,539.7 560,539.7 C558.5,539.5 557.3,537 557,533 Z"/>
<path class="k" style="stroke-width:1.1" d="M559.5,530 C561,532 561.5,536 560.5,539.5"/>
<!-- gear 16 -->
<path class="w" style="stroke-width:1.6" d="M596.8,551.1 L607.8,547.5 C610,547.5 611.5,547.8 613.3,548.4 C615.5,549 617.2,549.5 618.8,550.2 C620.5,551.5 621.5,553 622.4,554.8 C624,557.5 625.3,560 626.1,563 L626.1,572.2 C625.5,575 624.5,577 623.3,578.6 C621.5,580.5 619.5,581.5 617.8,582.3 L611.4,584.1 L609.6,585 L600,590 L585,570 Z"/>
<path class="k" style="stroke-width:1.1" d="M613.3,548.4 C617,551 620,557 621,565 C621.5,571 621,577 617.8,582.3 M606,553.5 L614.5,550.5 M607,557 L616,554 M607.5,561 L617,558 M608,565 L617.5,562 M608,569 L618,566.5 M608,573 L618,570.5 M607.5,577 L617.5,574.5 M607,581 L616.5,579"/>
<ellipse cx="593.1" cy="572.2" rx="14.4" ry="20.5" transform="rotate(-14 593.1 572.2)" class="w" style="stroke-width:2.2"/>
<ellipse cx="593.1" cy="572.2" rx="12.6" ry="18.5" transform="rotate(-14 593.1 572.2)" class="k" style="stroke-width:1.3"/>
<path class="k" style="stroke-width:1.5" d="M601.75,570.17 L601.87,570.53 L602.05,570.88 L602.27,571.23 L602.54,571.59 L602.82,571.96 L603.10,572.36 L603.35,572.77 L603.55,573.19 L603.69,573.62 L603.76,574.04 L603.75,574.45 L603.67,574.85 L603.52,575.22 L603.33,575.56 L603.10,575.88 L602.87,576.18 L602.66,576.47 L602.48,576.76 L602.35,577.06 L602.28,577.39 L602.27,577.75 L602.32,578.15 L602.42,578.59 L602.55,579.06 L602.69,579.56 L602.82,580.06 L602.92,580.56 L602.97,581.03 L602.96,581.46 L602.88,581.84 L602.73,582.15 L602.51,582.38 L602.24,582.56 L601.93,582.67 L601.60,582.74 L601.27,582.80 L600.96,582.86 L600.68,582.94 L600.45,583.08 L600.26,583.27 L600.13,583.54 L600.04,583.88 L599.98,584.29 L599.94,584.75 L599.91,585.23 L599.86,585.71 L599.78,586.17 L599.67,586.56 L599.50,586.88 L599.29,587.11 L599.04,587.23 L598.74,587.25 L598.42,587.17 L598.08,587.03 L597.73,586.84 L597.39,586.63 L597.07,586.45 L596.77,586.30 L596.50,586.23 L596.25,586.24 L596.03,586.35 L595.82,586.54 L595.62,586.81 L595.43,587.12 L595.22,587.46 L595.01,587.79 L594.77,588.08 L594.52,588.30 L594.25,588.42 L593.97,588.43 L593.68,588.34 L593.39,588.13 L593.10,587.83 L592.82,587.47 L592.55,587.06 L592.29,586.65 L592.04,586.27 L591.80,585.94 L591.56,585.68 L591.32,585.50 L591.06,585.42 L590.79,585.41 L590.51,585.46 L590.21,585.56 L589.89,585.66 L589.56,585.75 L589.24,585.80 L588.92,585.77 L588.61,585.67 L588.33,585.47 L588.09,585.17 L587.87,584.80 L587.70,584.36 L587.55,583.87 L587.43,583.36 L587.32,582.86 L587.21,582.38 L587.10,581.95 L586.95,581.57 L586.78,581.25 L586.56,581.00 L586.30,580.79 L586.01,580.62 L585.68,580.46 L585.34,580.31 L584.99,580.13 L584.65,579.92 L584.35,579.66 L584.09,579.36 L583.89,579.00 L583.75,578.59 L583.68,578.14 L583.66,577.68 L583.69,577.20 L583.75,576.72 L583.82,576.26 L583.88,575.81 L583.92,575.39 L583.91,575.00 L583.85,574.63 L583.73,574.27 L583.55,573.92 L583.33,573.57 L583.06,573.21 L582.78,572.84 L582.50,572.44 L582.25,572.03 L582.05,571.61 L581.91,571.18 L581.84,570.76 L581.85,570.35 L581.93,569.95 L582.08,569.58 L582.27,569.24 L582.50,568.92 L582.73,568.62 L582.94,568.33 L583.12,568.04 L583.25,567.74 L583.32,567.41 L583.33,567.05 L583.28,566.65 L583.18,566.21 L583.05,565.74 L582.91,565.24 L582.78,564.74 L582.68,564.24 L582.63,563.77 L582.64,563.34 L582.72,562.96 L582.87,562.65 L583.09,562.42 L583.36,562.24 L583.67,562.13 L584.00,562.06 L584.33,562.00 L584.64,561.94 L584.92,561.86 L585.15,561.72 L585.34,561.53 L585.47,561.26 L585.56,560.92 L585.62,560.51 L585.66,560.05 L585.69,559.57 L585.74,559.09 L585.82,558.63 L585.93,558.24 L586.10,557.92 L586.31,557.69 L586.56,557.57 L586.86,557.55 L587.18,557.63 L587.52,557.77 L587.87,557.96 L588.21,558.17 L588.53,558.35 L588.83,558.50 L589.10,558.57 L589.35,558.56 L589.57,558.45 L589.78,558.26 L589.98,557.99 L590.17,557.68 L590.38,557.34 L590.59,557.01 L590.83,556.72 L591.08,556.50 L591.35,556.38 L591.63,556.37 L591.92,556.46 L592.21,556.67 L592.50,556.97 L592.78,557.33 L593.05,557.74 L593.31,558.15 L593.56,558.53 L593.80,558.86 L594.04,559.12 L594.28,559.30 L594.54,559.38 L594.81,559.39 L595.09,559.34 L595.39,559.24 L595.71,559.14 L596.04,559.05 L596.36,559.00 L596.68,559.03 L596.99,559.13 L597.27,559.33 L597.51,559.63 L597.73,560.00 L597.90,560.44 L598.05,560.93 L598.17,561.44 L598.28,561.94 L598.39,562.42 L598.50,562.85 L598.65,563.23 L598.82,563.55 L599.04,563.80 L599.30,564.01 L599.59,564.18 L599.92,564.34 L600.26,564.49 L600.61,564.67 L600.95,564.88 L601.25,565.14 L601.51,565.44 L601.71,565.80 L601.85,566.21 L601.92,566.66 L601.94,567.12 L601.91,567.60 L601.85,568.08 L601.78,568.54 L601.72,568.99 L601.68,569.41 L601.69,569.80 L601.75,570.17 Z"/>
</g>

<!-- 90_leaders.svg -->
<g class="l" id="leaders">
<!-- bracket 3 -->
<path d="M716.5,35.5 L726,31 Q729,29.8 732,31.6 L855,97.2 Q861,97.4 864.7,95.8 Q861.5,98 862.5,100.5 Q864,103 867,104.5 L980.5,166.5 Q984.5,168.5 981,171.5 L977.5,173.8"/>
<path d="M675,76.8 L718,56.3 M708,98.8 L755.7,75 M738,120.7 L794,95 M855.8,106.7 L774.3,144.2 M839.4,173.1 L890.7,147.5 M886,205 L943,175 M651,212.9 L732.4,254.6"/>
<path d="M460,266.6 L478.2,281"/>
<path d="M950.8,313.4 L888.5,339.5 L874.8,367"/>
<path d="M915,427.2 L952.4,499.6 M960.2,414.8 L980.4,484"/>
<path d="M999.1,512 L998.6,527.6 Q998,531 995.2,532 L953.2,549.4"/>
<path d="M1030.2,530 L1030.7,541 Q1030.5,546 1027.9,547.9 L1001.4,560"/>
<path d="M807.7,593.2 L808.5,605 Q809,609.5 813.2,608.3 L845,596 Q850.5,594.3 852.1,598.5 Q853,593.2 857,591.5 L897.8,573.4"/>
<path d="M778.5,530 L789.4,560.6"/>
<path d="M353.4,824.4 L353.4,833 Q353.8,837.8 358,837.2 L681,698.8 Q686,697 688.3,703.4 Q688.8,697 692.5,693.8 L924.2,593.8 M970.3,574 L1001.4,560"/>
<path d="M655.7,511 L648.8,535.3 M711,528.4 L747.9,551.4"/>
<path d="M108.8,724 L182.6,740.7 M298.3,769.3 L361.3,806"/>
</g>
<g class="lv">
<path d="M326.2,209.8 L327.5,393.4 M389.5,294.7 L389.5,343.7 M448.6,306.2 L448.6,344.4 M420.3,264.8 L420.5,364.8 M478.2,281 L479.1,364.8"/>
<path d="M369.8,366.8 L370.2,376 Q370.6,380.6 375,380.6 L430,380.6 Q435,380.6 435.8,384.5 Q436.6,380.6 441.6,380.6 L495,380.6 Q499.8,380.6 500,376 L500.7,365.8"/>
<path d="M304.8,401.3 L305.5,415.5 Q306,420.8 311,420.8 L397,420.8 Q402.5,420.8 403.3,425.6 Q404.1,420.8 409.6,420.8 L495.5,420.8 Q500.5,420.8 500.6,415.5 L500.7,407.2"/>
<path d="M952.4,499.6 L952.4,520.6 M1014.7,430.4 L1014.7,522.2"/>
<path d="M827.8,494.3 L827.5,595.4 M789.4,560.6 L789.8,618.2"/>
<path d="M648.8,535.3 L650,678 M747.9,551.4 L749.9,635.9 M713.3,612.5 L714,651.3"/>
<path d="M606.5,597 L607,697.7 M562.1,550.5 L563.2,715.8 M528.8,564.7 L528.6,729 M499.5,571.7 L500.6,768.6 M430.5,656.4 L431.3,798.3"/>
</g>
<g class="f">
<circle cx="430.3" cy="656.8" r="1.4"/>
<circle cx="326.2" cy="209.6" r="1.4"/>
<circle cx="711" cy="528.4" r="1.3"/>
<circle cx="774.3" cy="144.2" r="1.3"/>
<circle cx="651" cy="212.9" r="1.2"/>
<circle cx="950.8" cy="550.2" r="1.1"/>
</g>


<g>
<circle class="c" cx="403.6" cy="435" r="22.3"/>
<circle class="c" cx="953.8" cy="167.3" r="22.3"/>
<circle class="c" cx="854.6" cy="611.5" r="22.3"/>
<circle class="c" cx="374.3" cy="814.8" r="22.3"/>
<circle class="c" cx="524.7" cy="741.9" r="22.3"/>
<circle class="c" cx="650.4" cy="684.1" r="22.3"/>
<circle class="c" cx="712.7" cy="662.2" r="22.3"/>
<circle class="c" cx="753.7" cy="642" r="22.3"/>
<circle cx="611.8" cy="707" r="22.3" style="fill:#008a86;fill-opacity:.5;stroke:#3569aa;stroke-width:2.1"/>
</g>

<g fill="none" stroke="#1b1b1b" stroke-width="1.65" stroke-linecap="butt" stroke-linejoin="round"><path transform="translate(722.00,42.00) scale(1,0.913)" d="M0.7,3.6 L3.6,0.8 L3.6,14.5"/><path transform="translate(728.00,42.00) scale(1,0.913)" d="M7.8,0.8 L1.9,0.8 L1.4,6.4 C2.3,5.7 3.3,5.3 4.4,5.3 C6.7,5.3 8.2,7.2 8.2,9.7 C8.2,12.3 6.5,14.2 4.3,14.2 C2.8,14.2 1.5,13.4 0.8,12.2"/></g>
<g fill="none" stroke="#1b1b1b" stroke-width="1.65" stroke-linecap="butt" stroke-linejoin="round"><path transform="translate(759.00,59.80) scale(1,0.920)" d="M0.7,3.6 L3.6,0.8 L3.6,14.5"/><path transform="translate(765.00,59.80) scale(1,0.920)" d="M6.4,14.5 L6.4,0.8 L0.8,10.6 L8.6,10.6"/></g>
<g fill="none" stroke="#1b1b1b" stroke-width="1.65" stroke-linecap="butt" stroke-linejoin="round"><path transform="translate(794.80,80.40) scale(1,0.920)" d="M0.7,3.6 L3.6,0.8 L3.6,14.5"/><path transform="translate(801.00,80.40) scale(1,0.920)" d="M1.2,0.8 L7.8,0.8 L4.0,5.9 C6.6,5.7 8.2,7.6 8.2,9.9 C8.2,12.4 6.5,14.2 4.4,14.2 C2.8,14.2 1.5,13.4 0.8,12.1"/></g>
<g fill="none" stroke="#1b1b1b" stroke-width="1.65" stroke-linecap="butt" stroke-linejoin="round"><path transform="translate(872.30,78.80) scale(1,1.007)" d="M1.2,0.8 L7.8,0.8 L4.0,5.9 C6.6,5.7 8.2,7.6 8.2,9.9 C8.2,12.4 6.5,14.2 4.4,14.2 C2.8,14.2 1.5,13.4 0.8,12.1"/></g>
<g fill="none" stroke="#1b1b1b" stroke-width="1.65" stroke-linecap="butt" stroke-linejoin="round"><path transform="translate(893.70,132.60) scale(1,1.007)" d="M0.7,3.6 L3.6,0.8 L3.6,14.5"/><path transform="translate(901.00,132.60) scale(1,1.007)" d="M2.4,14.4 L7.0,7.2 M4.5,8.5 C6.6,8.5 8.2,6.8 8.2,4.65 C8.2,2.5 6.6,0.8 4.5,0.8 C2.4,0.8 0.8,2.5 0.8,4.65 C0.8,6.8 2.4,8.5 4.5,8.5 Z"/></g>
<g fill="none" stroke="#1b1b1b" stroke-width="1.65" stroke-linecap="butt" stroke-linejoin="round"><path transform="translate(945.60,159.00) scale(1,1.000)" d="M1.0,4.0 C1.0,2.0 2.6,0.8 4.5,0.8 C6.5,0.8 8.0,2.1 8.0,4.1 C8.0,5.6 7.2,6.7 6.2,7.9 L1.0,14.2 L8.4,14.2"/><path transform="translate(955.00,159.00) scale(1,1.000)" d="M4.5,0.8 C2.3,0.8 0.8,3.6 0.8,7.5 C0.8,11.4 2.3,14.2 4.5,14.2 C6.7,14.2 8.2,11.4 8.2,7.5 C8.2,3.6 6.7,0.8 4.5,0.8 Z"/></g>
<g fill="none" stroke="#1b1b1b" stroke-width="1.65" stroke-linecap="butt" stroke-linejoin="round"><path transform="translate(741.00,253.50) scale(1,1.033)" d="M1.0,4.0 C1.0,2.0 2.6,0.8 4.5,0.8 C6.5,0.8 8.0,2.1 8.0,4.1 C8.0,5.6 7.2,6.7 6.2,7.9 L1.0,14.2 L8.4,14.2"/><path transform="translate(752.00,253.50) scale(1,1.033)" d="M1.2,0.8 L7.8,0.8 L4.0,5.9 C6.6,5.7 8.2,7.6 8.2,9.9 C8.2,12.4 6.5,14.2 4.4,14.2 C2.8,14.2 1.5,13.4 0.8,12.1"/></g>
<g fill="none" stroke="#1b1b1b" stroke-width="1.65" stroke-linecap="butt" stroke-linejoin="round"><path transform="translate(383.80,349.40) scale(1,0.960)" d="M0.7,3.6 L3.6,0.8 L3.6,14.5"/><path transform="translate(390.90,349.40) scale(1,0.960)" d="M0.7,3.6 L3.6,0.8 L3.6,14.5"/></g>
<g fill="none" stroke="#1b1b1b" stroke-width="1.65" stroke-linecap="butt" stroke-linejoin="round"><path transform="translate(442.00,351.00) scale(1,0.900)" d="M0.7,3.6 L3.6,0.8 L3.6,14.5"/><path transform="translate(449.00,351.00) scale(1,0.900)" d="M4.5,0.8 C2.3,0.8 0.8,3.6 0.8,7.5 C0.8,11.4 2.3,14.2 4.5,14.2 C6.7,14.2 8.2,11.4 8.2,7.5 C8.2,3.6 6.7,0.8 4.5,0.8 Z"/></g>
<g fill="none" stroke="#1b1b1b" stroke-width="1.65" stroke-linecap="butt" stroke-linejoin="round"><path transform="translate(431.75,388.50) scale(1,0.980)" d="M2.4,14.4 L7.0,7.2 M4.5,8.5 C6.6,8.5 8.2,6.8 8.2,4.65 C8.2,2.5 6.6,0.8 4.5,0.8 C2.4,0.8 0.8,2.5 0.8,4.65 C0.8,6.8 2.4,8.5 4.5,8.5 Z"/></g>
<g fill="none" stroke="#1b1b1b" stroke-width="1.65" stroke-linecap="butt" stroke-linejoin="round"><path transform="translate(398.05,431.90) scale(1,0.920)" d="M4.5,0.8 C2.7,0.8 1.3,2.2 1.3,4.0 C1.3,5.8 2.7,7.2 4.5,7.2 C6.3,7.2 7.7,5.8 7.7,4.0 C7.7,2.2 6.3,0.8 4.5,0.8 Z M4.5,7.2 C2.4,7.2 0.8,8.6 0.8,10.7 C0.8,12.7 2.4,14.2 4.5,14.2 C6.6,14.2 8.2,12.7 8.2,10.7 C8.2,8.6 6.6,7.2 4.5,7.2 Z"/></g>
<g fill="none" stroke="#1b1b1b" stroke-width="1.65" stroke-linecap="butt" stroke-linejoin="round"><path transform="translate(960.00,297.30) scale(1,1.047)" d="M1.2,0.8 L7.8,0.8 L4.0,5.9 C6.6,5.7 8.2,7.6 8.2,9.9 C8.2,12.4 6.5,14.2 4.4,14.2 C2.8,14.2 1.5,13.4 0.8,12.1"/><path transform="translate(971.00,297.30) scale(1,1.047)" d="M6.6,0.6 L2.0,7.8 M4.5,6.5 C6.6,6.5 8.2,8.2 8.2,10.35 C8.2,12.5 6.6,14.2 4.5,14.2 C2.4,14.2 0.8,12.5 0.8,10.35 C0.8,8.2 2.4,6.5 4.5,6.5 Z"/></g>
<g fill="none" stroke="#1b1b1b" stroke-width="1.65" stroke-linecap="butt" stroke-linejoin="round"><path transform="translate(971.80,488.00) scale(1,0.980)" d="M1.2,0.8 L7.8,0.8 L4.0,5.9 C6.6,5.7 8.2,7.6 8.2,9.9 C8.2,12.4 6.5,14.2 4.4,14.2 C2.8,14.2 1.5,13.4 0.8,12.1"/><path transform="translate(982.30,488.00) scale(1,0.980)" d="M7.8,0.8 L1.9,0.8 L1.4,6.4 C2.3,5.7 3.3,5.3 4.4,5.3 C6.7,5.3 8.2,7.2 8.2,9.7 C8.2,12.3 6.5,14.2 4.3,14.2 C2.8,14.2 1.5,13.4 0.8,12.2"/></g>
<g fill="none" stroke="#1b1b1b" stroke-width="1.65" stroke-linecap="butt" stroke-linejoin="round"><path transform="translate(942.30,525.30) scale(1,0.933)" d="M1.2,0.8 L7.8,0.8 L4.0,5.9 C6.6,5.7 8.2,7.6 8.2,9.9 C8.2,12.4 6.5,14.2 4.4,14.2 C2.8,14.2 1.5,13.4 0.8,12.1"/><path transform="translate(951.20,525.30) scale(1,0.933)" d="M0.8,0.8 L8.2,0.8 L3.0,14.5"/></g>
<g fill="none" stroke="#1b1b1b" stroke-width="1.65" stroke-linecap="butt" stroke-linejoin="round"><path transform="translate(1004.50,530.80) scale(1,0.980)" d="M1.2,0.8 L7.8,0.8 L4.0,5.9 C6.6,5.7 8.2,7.6 8.2,9.9 C8.2,12.4 6.5,14.2 4.4,14.2 C2.8,14.2 1.5,13.4 0.8,12.1"/><path transform="translate(1014.20,530.80) scale(1,0.980)" d="M1.2,0.8 L7.8,0.8 L4.0,5.9 C6.6,5.7 8.2,7.6 8.2,9.9 C8.2,12.4 6.5,14.2 4.4,14.2 C2.8,14.2 1.5,13.4 0.8,12.1"/></g>
<g fill="none" stroke="#1b1b1b" stroke-width="1.65" stroke-linecap="butt" stroke-linejoin="round"><path transform="translate(848.45,603.60) scale(1,0.980)" d="M7.8,0.8 L1.9,0.8 L1.4,6.4 C2.3,5.7 3.3,5.3 4.4,5.3 C6.7,5.3 8.2,7.2 8.2,9.7 C8.2,12.3 6.5,14.2 4.3,14.2 C2.8,14.2 1.5,13.4 0.8,12.2"/></g>
<g fill="none" stroke="#1b1b1b" stroke-width="1.65" stroke-linecap="butt" stroke-linejoin="round"><path transform="translate(780.60,628.80) scale(1,0.947)" d="M1.2,0.8 L7.8,0.8 L4.0,5.9 C6.6,5.7 8.2,7.6 8.2,9.9 C8.2,12.4 6.5,14.2 4.4,14.2 C2.8,14.2 1.5,13.4 0.8,12.1"/><path transform="translate(791.50,628.80) scale(1,0.947)" d="M4.5,0.8 C2.3,0.8 0.8,3.6 0.8,7.5 C0.8,11.4 2.3,14.2 4.5,14.2 C6.7,14.2 8.2,11.4 8.2,7.5 C8.2,3.6 6.7,0.8 4.5,0.8 Z"/></g>
<g fill="none" stroke="#1b1b1b" stroke-width="1.65" stroke-linecap="butt" stroke-linejoin="round"><path transform="translate(741.50,643.60) scale(1,1.027)" d="M1.0,4.0 C1.0,2.0 2.6,0.8 4.5,0.8 C6.5,0.8 8.0,2.1 8.0,4.1 C8.0,5.6 7.2,6.7 6.2,7.9 L1.0,14.2 L8.4,14.2"/><path transform="translate(751.00,643.60) scale(1,1.027)" d="M6.6,0.6 L2.0,7.8 M4.5,6.5 C6.6,6.5 8.2,8.2 8.2,10.35 C8.2,12.5 6.6,14.2 4.5,14.2 C2.4,14.2 0.8,12.5 0.8,10.35 C0.8,8.2 2.4,6.5 4.5,6.5 Z"/></g>
<g fill="none" stroke="#1b1b1b" stroke-width="1.65" stroke-linecap="butt" stroke-linejoin="round"><path transform="translate(705.60,657.00) scale(1,0.987)" d="M1.0,4.0 C1.0,2.0 2.6,0.8 4.5,0.8 C6.5,0.8 8.0,2.1 8.0,4.1 C8.0,5.6 7.2,6.7 6.2,7.9 L1.0,14.2 L8.4,14.2"/><path transform="translate(714.00,657.00) scale(1,0.987)" d="M4.5,0.8 C2.7,0.8 1.3,2.2 1.3,4.0 C1.3,5.8 2.7,7.2 4.5,7.2 C6.3,7.2 7.7,5.8 7.7,4.0 C7.7,2.2 6.3,0.8 4.5,0.8 Z M4.5,7.2 C2.4,7.2 0.8,8.6 0.8,10.7 C0.8,12.7 2.4,14.2 4.5,14.2 C6.6,14.2 8.2,12.7 8.2,10.7 C8.2,8.6 6.6,7.2 4.5,7.2 Z"/></g>
<g fill="none" stroke="#1b1b1b" stroke-width="1.65" stroke-linecap="butt" stroke-linejoin="round"><path transform="translate(643.20,685.00) scale(1,1.007)" d="M1.0,4.0 C1.0,2.0 2.6,0.8 4.5,0.8 C6.5,0.8 8.0,2.1 8.0,4.1 C8.0,5.6 7.2,6.7 6.2,7.9 L1.0,14.2 L8.4,14.2"/><path transform="translate(653.00,685.00) scale(1,1.007)" d="M2.4,14.4 L7.0,7.2 M4.5,8.5 C6.6,8.5 8.2,6.8 8.2,4.65 C8.2,2.5 6.6,0.8 4.5,0.8 C2.4,0.8 0.8,2.5 0.8,4.65 C0.8,6.8 2.4,8.5 4.5,8.5 Z"/></g>
<g fill="none" stroke="#1b1b1b" stroke-width="1.65" stroke-linecap="butt" stroke-linejoin="round"><path transform="translate(522.30,736.20) scale(1,0.987)" d="M0.7,3.6 L3.6,0.8 L3.6,14.5"/><path transform="translate(528.10,736.20) scale(1,0.987)" d="M4.5,0.8 C2.7,0.8 1.3,2.2 1.3,4.0 C1.3,5.8 2.7,7.2 4.5,7.2 C6.3,7.2 7.7,5.8 7.7,4.0 C7.7,2.2 6.3,0.8 4.5,0.8 Z M4.5,7.2 C2.4,7.2 0.8,8.6 0.8,10.7 C0.8,12.7 2.4,14.2 4.5,14.2 C6.6,14.2 8.2,12.7 8.2,10.7 C8.2,8.6 6.6,7.2 4.5,7.2 Z"/></g>
<g fill="none" stroke="#1b1b1b" stroke-width="1.65" stroke-linecap="butt" stroke-linejoin="round"><path transform="translate(556.00,723.80) scale(1,0.987)" d="M0.7,3.6 L3.6,0.8 L3.6,14.5"/><path transform="translate(560.20,723.80) scale(1,0.987)" d="M0.8,0.8 L8.2,0.8 L3.0,14.5"/></g>
<g fill="none" stroke="#1b1b1b" stroke-width="1.65" stroke-linecap="butt" stroke-linejoin="round"><path transform="translate(684.80,714.20) scale(1,0.987)" d="M1.0,4.0 C1.0,2.0 2.6,0.8 4.5,0.8 C6.5,0.8 8.0,2.1 8.0,4.1 C8.0,5.6 7.2,6.7 6.2,7.9 L1.0,14.2 L8.4,14.2"/></g>
<g fill="none" stroke="#1b1b1b" stroke-width="1.65" stroke-linecap="butt" stroke-linejoin="round"><path transform="translate(188.60,732.40) scale(1,1.033)" d="M1.0,4.0 C1.0,2.0 2.6,0.8 4.5,0.8 C6.5,0.8 8.0,2.1 8.0,4.1 C8.0,5.6 7.2,6.7 6.2,7.9 L1.0,14.2 L8.4,14.2"/><path transform="translate(197.40,732.40) scale(1,1.033)" d="M1.0,4.0 C1.0,2.0 2.6,0.8 4.5,0.8 C6.5,0.8 8.0,2.1 8.0,4.1 C8.0,5.6 7.2,6.7 6.2,7.9 L1.0,14.2 L8.4,14.2"/></g>
<g fill="none" stroke="#1b1b1b" stroke-width="1.65" stroke-linecap="butt" stroke-linejoin="round"><path transform="translate(369.30,806.90) scale(1,1.007)" d="M6.6,0.6 L2.0,7.8 M4.5,6.5 C6.6,6.5 8.2,8.2 8.2,10.35 C8.2,12.5 6.6,14.2 4.5,14.2 C2.4,14.2 0.8,12.5 0.8,10.35 C0.8,8.2 2.4,6.5 4.5,6.5 Z"/></g>
<g fill="none" stroke="#0f4545" stroke-width="1.65" stroke-linecap="butt" stroke-linejoin="round"><path transform="translate(601.40,704.80) scale(1,0.993)" d="M0.7,3.6 L3.6,0.8 L3.6,14.5"/><path transform="translate(607.20,704.80) scale(1,0.993)" d="M6.6,0.6 L2.0,7.8 M4.5,6.5 C6.6,6.5 8.2,8.2 8.2,10.35 C8.2,12.5 6.6,14.2 4.5,14.2 C2.4,14.2 0.8,12.5 0.8,10.35 C0.8,8.2 2.4,6.5 4.5,6.5 Z"/></g>
</svg>
</body></html>
